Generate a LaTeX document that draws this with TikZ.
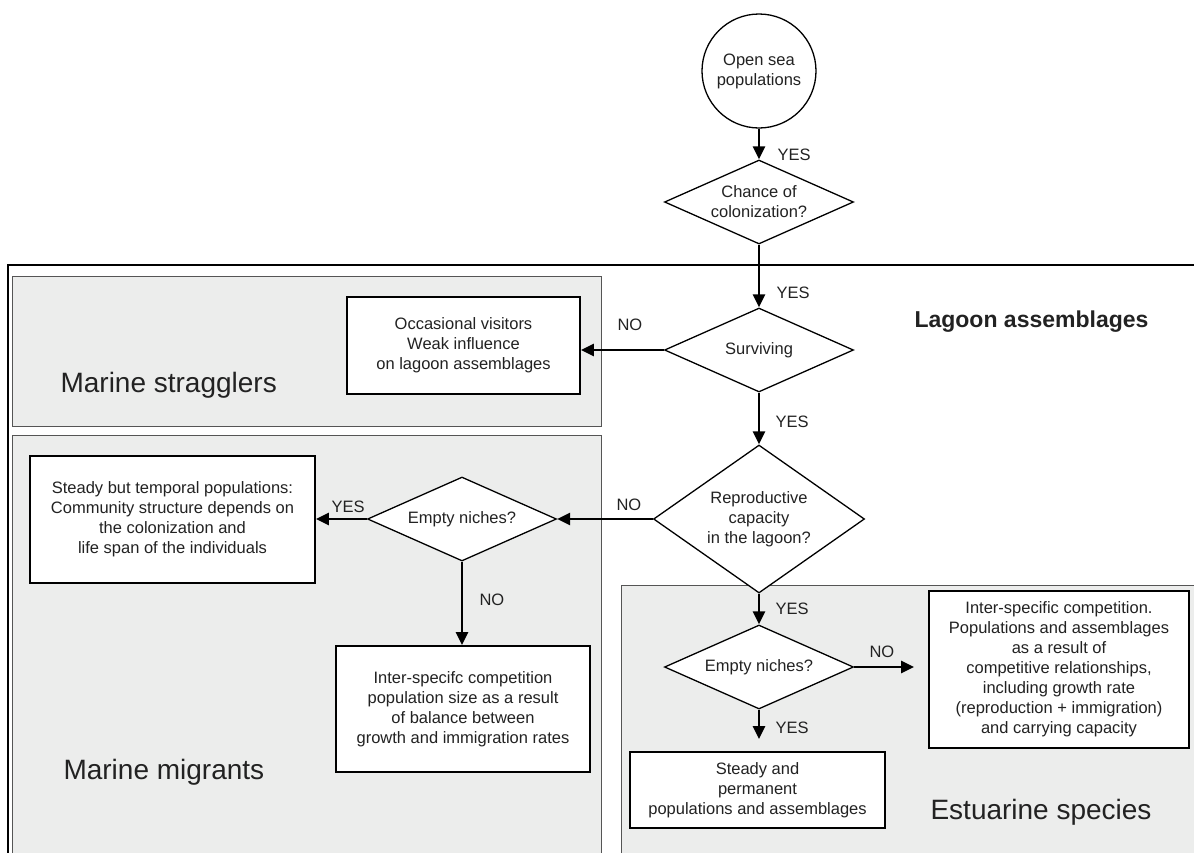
\documentclass[tikz,border=0pt]{standalone}
\usepackage{fontspec}
\setmainfont{Liberation Sans}
\usetikzlibrary{shapes.geometric,arrows.meta}
\definecolor{zonegray}{HTML}{ECEDEC}
\definecolor{zoneline}{HTML}{555555}
\definecolor{ink}{HTML}{222222}

\begin{document}
\begin{tikzpicture}[x=1pt,y=-1pt,
		every node/.style={text=ink, font=\fontsize{16.5}{20}\selectfont},
		decision/.style={diamond, draw=black, line width=1.3pt, fill=white, inner sep=0pt, align=center},
		outcome/.style={rectangle, draw=black, line width=1.8pt, fill=white, inner sep=0pt, align=center},
		zone/.style={draw=zoneline, line width=1pt, fill=zonegray},
		zonename/.style={anchor=west, font=\fontsize{28}{32}\selectfont},
		flow/.style={line width=2.6pt, -{Triangle[length=13pt,width=12pt]}},
		answer/.style={anchor=west}]
		
		% Page
		\clip (0,0) rectangle (1194,852);
		
		% Lagoon frame and the three zones
		\draw[line width=1.3pt] (8,265) rectangle (1210,880);
		\filldraw[zone] (12,276) rectangle (601,426);
		\filldraw[zone] (12,435) rectangle (601,880);
		\filldraw[zone] (621,585) rectangle (1210,880);
		
		\node[anchor=west, font=\bfseries\fontsize{23}{27}\selectfont] (lagoon) at (911,322) {Lagoon assemblages};
		\node[zonename] (straggler) at (57,385) {Marine stragglers};
		\node[zonename] (migrant) at (60,772) {Marine migrants};
		\node[zonename] (estuarine) at (927,812) {Estuarine species};
		
		% Start and questions
		\node[circle, draw=black, line width=1.3pt, minimum size=114pt, inner sep=0pt, fill=white, align=center] (sea) at (759,71) {Open sea\\populations};
		\node[decision, aspect=2.25, minimum width=189pt, minimum height=84pt] (chance) at (759,202) {Chance of\\colonization?};
		\node[decision, aspect=2.25, minimum width=189pt, minimum height=84pt] (surv) at (759,350) {Surviving};
		\node[decision, aspect=1.43, minimum width=211pt, minimum height=148pt] (repro) at (759,519) {Reproductive\\capacity\\in the lagoon?};
		\node[decision, aspect=2.25, minimum width=189pt, minimum height=84pt] (nicheL) at (462,519) {Empty niches?};
		\node[decision, aspect=2.25, minimum width=189pt, minimum height=84pt] (nicheR) at (759,667) {Empty niches?};
		
		% Outcomes
		\node[outcome, minimum width=233pt, minimum height=97pt] (visit) at (463.5,345.5) {Occasional visitors\\Weak influence\\on lagoon assemblages};
		\node[outcome, minimum width=285pt, minimum height=127pt] (tempo) at (172.5,519.5) {Steady but temporal populations:\\Community structure depends on\\the colonization and\\life span of the individuals};
		\node[outcome, minimum width=254pt, minimum height=126pt] (compA) at (463,709) {Inter-specifc competition\\population size as a result\\of balance between\\growth and immigration rates};
		\node[outcome, minimum width=260pt, minimum height=157pt] (compB) at (1059,669.5) {Inter-specific competition.\\Populations and assemblages\\as a result of\\competitive relationships,\\including growth rate\\(reproduction + immigration)\\and carrying capacity};
		\node[outcome, minimum width=255pt, minimum height=76pt] (perm) at (757.5,790) {Steady and\\permanent\\populations and assemblages};
		
		% Connectors
		\draw[flow] (sea.south) -- (chance.north);
		\draw[flow] (chance.south) -- (surv.north);
		\draw[flow] (surv.south) -- (repro.north);
		\draw[flow] (repro.south) -- (nicheR.north);
		\draw[flow] (surv.west) -- (surv.west -| visit.east);
		\draw[flow] (repro.west) -- (nicheL.east);
		\draw[flow] (nicheL.west) -- (nicheL.west -| tempo.east);
		\draw[flow] (nicheL.south) -- (nicheL.south |- compA.north);
		\draw[flow, shorten >=14pt] (nicheR.east) -- (nicheR.east -| compB.west);
		\draw[flow, shorten >=12pt] (nicheR.south) -- (nicheR.south |- perm.north);
		
		% Answers
		\node[answer] (yes1) at (774,155) {YES};
		\node[answer] (yes2) at (773,293) {YES};
		\node[answer] (no1) at (614,325) {NO};
		\node[answer] (yes3) at (772,422) {YES};
		\node[answer] (no2) at (613,505) {NO};
		\node[answer] (yes4) at (328,507) {YES};
		\node[answer] (no3) at (476,600) {NO};
		\node[answer] (yes5) at (772,609) {YES};
		\node[answer] (no4) at (866,652) {NO};
		\node[answer] (yes6) at (772,728) {YES};
	\end{tikzpicture}
\end{document}
